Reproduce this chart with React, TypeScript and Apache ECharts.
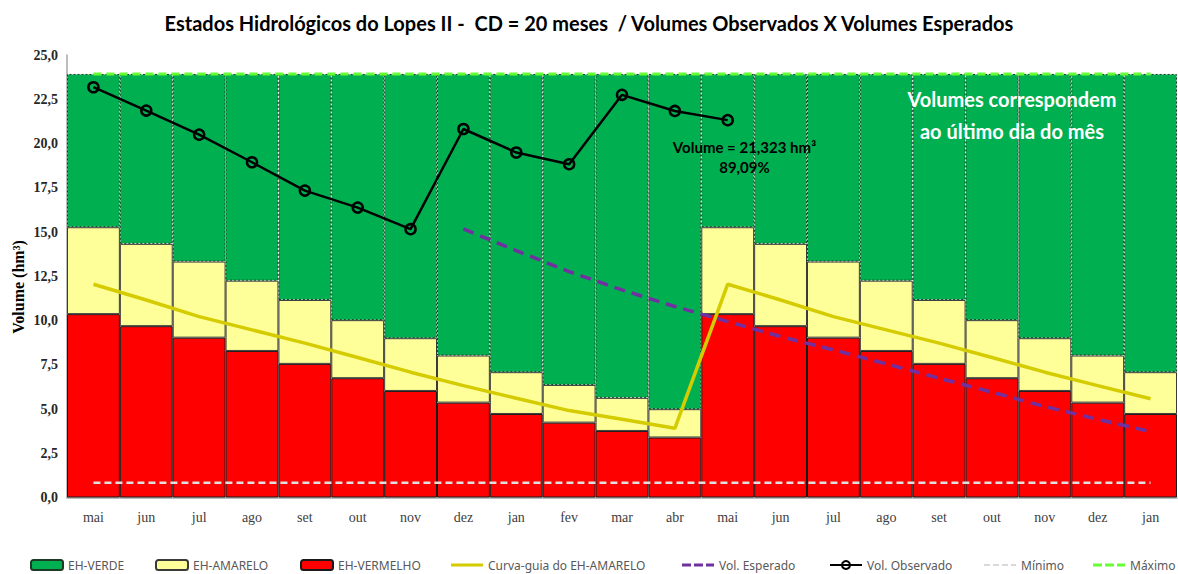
import React, { useEffect, useRef } from "react";
import * as echarts from "echarts";

const categories = ["mai", "jun", "jul", "ago", "set", "out", "nov", "dez", "jan", "fev", "mar", "abr", "mai", "jun", "jul", "ago", "set", "out", "nov", "dez", "jan"];

// upper limits of each hydrological state (hm³)
const limiteVermelho = [10.36, 9.68, 9.03, 8.28, 7.55, 6.74, 6.02, 5.36, 4.72, 4.23, 3.76, 3.39, 10.36, 9.68, 9.03, 8.28, 7.55, 6.74, 6.02, 5.36, 4.72];
const limiteAmarelo = [15.27, 14.33, 13.33, 12.25, 11.16, 10.02, 9.0, 8.02, 7.08, 6.36, 5.63, 4.99, 15.27, 14.33, 13.33, 12.25, 11.16, 10.02, 9.0, 8.02, 7.08];
const limiteVerde = [23.93, 23.93, 23.93, 23.93, 23.93, 23.93, 23.93, 23.93, 23.93, 23.93, 23.93, 23.93, 23.93, 23.93, 23.93, 23.93, 23.93, 23.93, 23.93, 23.93, 23.93];

const curvaGuia = [12.05, 11.16, 10.22, 9.47, 8.72, 7.91, 7.08, 6.32, 5.61, 4.91, 4.42, 3.91, 12.05, 11.16, 10.22, 9.47, 8.72, 7.91, 7.08, 6.32, 5.58];
const volEsperado = [null, null, null, null, null, null, null, 15.17, 13.95, 12.76, 11.73, 10.79, 9.94, 9.09, 8.34, 7.55, 6.74, 5.95, 5.14, 4.42, 3.72];
const volObservado = [23.18, 21.86, 20.5, 18.94, 17.34, 16.38, 15.16, 20.82, 19.49, 18.83, 22.75, 21.84, 21.32, null, null, null, null, null, null, null, null];
const minimo = [0.83, 0.83, 0.83, 0.83, 0.83, 0.83, 0.83, 0.83, 0.83, 0.83, 0.83, 0.83, 0.83, 0.83, 0.83, 0.83, 0.83, 0.83, 0.83, 0.83, 0.83];
const maximo = [23.93, 23.93, 23.93, 23.93, 23.93, 23.93, 23.93, 23.93, 23.93, 23.93, 23.93, 23.93, 23.93, 23.93, 23.93, 23.93, 23.93, 23.93, 23.93, 23.93, 23.93];

const yTicks = { min: 0, max: 25, interval: 2.5 };

const titleText = "Estados Hidrológicos do Lopes II -  CD = 20 meses  / Volumes Observados X Volumes Esperados";
const yAxisName = "Volume (hm³)";
const notaVolume = ["Volume = 21,323 hm³", "89,09%"];
const notaDia = ["Volumes correspondem", "ao último dia do mês"];

const legendNames = ["EH-VERDE", "EH-AMARELO", "EH-VERMELHO", "Curva-guia do EH-AMARELO", "Vol. Esperado", "Vol. Observado", "Mínimo", "Máximo"];
const legendLeft = [30, 155, 300, 451, 682, 829, 984, 1093];

const SPECKS = "M0,0h0.01v0.01h-0.01z M0,9.99h0.01v0.01h-0.01z ";
const solidIcon = "path://" + SPECKS + "M0,3.6h32v2.8H0z";
const dashIcon = "path://" + SPECKS + "M0,3.6h9v2.8H0z M12,3.6h9v2.8h-9z M24,3.6h8v2.8h-8z";
const thinDashIcon = "path://" + SPECKS + "M0,4h6v2H0z M9,4h6v2H9z M18,4h6v2h-6z M27,4h5v2h-5z";

export default function App() {
  const ref = useRef<HTMLDivElement>(null);
  useEffect(() => {
    if (!ref.current) return;
    const chart = echarts.init(ref.current, null, { renderer: "svg" });
    const vermelho = limiteVermelho.map((v) => +v.toFixed(2));
    const amarelo = limiteAmarelo.map((v, i) => +(v - limiteVermelho[i]).toFixed(2));
    const verde = limiteVerde.map((v, i) => +(v - limiteAmarelo[i]).toFixed(2));
    const serif = "'Liberation Serif', 'Times New Roman', serif";
    const sans = "'Noto Sans', sans-serif";

    const legendIcons: Record<string, any> = {
      "Curva-guia do EH-AMARELO": { icon: solidIcon, itemStyle: { color: "#d4cc00", borderWidth: 0 } },
      "Vol. Esperado": { icon: dashIcon, itemStyle: { color: "#7030a0", borderWidth: 0 } },
      "Mínimo": { icon: thinDashIcon, itemStyle: { color: "#d9d9d9", borderWidth: 0 } },
      "Máximo": { icon: dashIcon, itemStyle: { color: "#66ff33", borderWidth: 0 } },
    };
    const legends = legendNames.map((name, i) => ({
      left: legendLeft[i],
      top: 559,
      itemWidth: 32,
      itemHeight: 10,
      padding: 0,
      selectedMode: false,
      textStyle: { fontFamily: sans, fontSize: 12, color: "#595959" },
      data: [legendIcons[name] ? { name, ...legendIcons[name] } : name],
    }));

    chart.setOption({
      animation: false,
      backgroundColor: "#ffffff",
      title: {
        text: titleText,
        left: "center",
        top: 8,
        textStyle: { fontFamily: "Lato", fontWeight: "bold", fontSize: 20, color: "#000" },
      },
      grid: { left: 67, right: 1, top: 55, bottom: 76.5, containLabel: false },
      legend: legends,
      xAxis: {
        type: "category",
        data: categories,
        axisLine: { lineStyle: { color: "#a6a6a6", width: 1.5 } },
        axisTick: { show: false },
        axisLabel: { fontFamily: serif, fontSize: 14, color: "#404040", margin: 13 },
      },
      yAxis: {
        type: "value",
        min: yTicks.min,
        max: yTicks.max,
        interval: yTicks.interval,
        axisLine: { show: true, lineStyle: { color: "#a6a6a6", width: 1.5 } },
        axisTick: { show: false },
        splitLine: { show: false },
        axisLabel: {
          fontFamily: serif,
          fontWeight: "bold",
          fontSize: 14,
          color: "#262626",
          margin: 9,
          formatter: (v: number) => v.toFixed(1).replace(".", ","),
        },
      },
      series: [
        {
          name: "EH-VERMELHO",
          type: "bar",
          stack: "eh",
          barCategoryGap: "0%",
          data: vermelho,
          itemStyle: { color: "#ff0000", borderColor: "#1a1a1a", borderWidth: 1 },
        },
        {
          name: "EH-AMARELO",
          type: "bar",
          stack: "eh",
          barCategoryGap: "0%",
          data: amarelo,
          itemStyle: { color: "#ffff99", borderColor: "#3a3a3a", borderWidth: 1 },
        },
        {
          name: "EH-VERDE",
          type: "bar",
          stack: "eh",
          barCategoryGap: "0%",
          data: verde,
          itemStyle: { color: "#00b050", borderColor: "#1d3a22", borderWidth: 1, borderType: [2, 2] },
        },
        {
          name: "Mínimo",
          type: "line",
          data: minimo,
          symbol: "none",
          lineStyle: { color: "#e0e0e0", width: 2.5, type: [7, 4] },
          itemStyle: { color: "#e0e0e0" },
        },
        {
          name: "Máximo",
          type: "line",
          data: maximo,
          symbol: "none",
          lineStyle: { color: "#66ff33", width: 3, type: [8, 5] },
          itemStyle: { color: "#66ff33" },
        },
        {
          name: "Curva-guia do EH-AMARELO",
          type: "line",
          data: curvaGuia,
          symbol: "none",
          lineStyle: { color: "#d4cc00", width: 3.5 },
          itemStyle: { color: "#d4cc00" },
        },
        {
          name: "Vol. Esperado",
          type: "line",
          data: volEsperado,
          symbol: "none",
          lineStyle: { color: "#7030a0", width: 3.5, type: [11, 7] },
          itemStyle: { color: "#7030a0" },
        },
        {
          name: "Vol. Observado",
          type: "line",
          data: volObservado,
          symbol: "circle",
          symbolSize: 10,
          lineStyle: { color: "#000", width: 2.5 },
          itemStyle: { color: "rgba(0,0,0,0)", borderColor: "#000", borderWidth: 2.5 },
        },
      ],
      graphic: [
        {
          type: "text",
          x: 18,
          y: 287,
          rotation: Math.PI / 2,
          style: {
            text: yAxisName,
            fontFamily: serif,
            fontWeight: "bold",
            fontSize: 16,
            fill: "#000",
            align: "center",
            verticalAlign: "middle",
          },
        },
        {
          type: "text",
          x: 744.5,
          y: 157,
          style: {
            text: notaVolume.join("\n"),
            fontFamily: "Lato",
            fontWeight: "bold",
            fontSize: 15,
            lineHeight: 20,
            fill: "#000",
            align: "center",
            verticalAlign: "middle",
          },
          z: 100,
        },
        {
          type: "text",
          x: 1012,
          y: 115,
          style: {
            text: notaDia.join("\n"),
            fontFamily: "Lato",
            fontWeight: "bold",
            fontSize: 20,
            lineHeight: 32,
            fill: "#ffffff",
            align: "center",
            verticalAlign: "middle",
          },
          z: 100,
        },
      ],
    });
    return () => chart.dispose();
  }, []);
  return <div ref={ref} style={{ position: "absolute", left: 0, top: 0, width: 1178, height: 574 }} />;
}
